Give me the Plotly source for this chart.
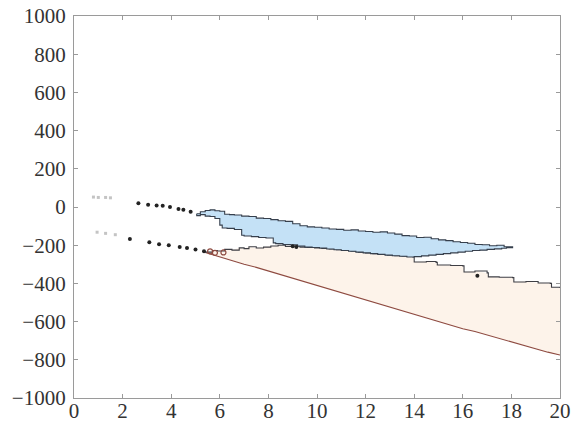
import plotly.graph_objects as go

# Blue region boundaries
blue_upper_x = [5.05, 5.2, 5.4, 5.6, 5.8, 6.0, 6.2, 6.4, 6.6, 6.9, 7.2, 7.5, 7.8, 8.1, 8.4, 8.7, 9.0,
                9.3, 9.6, 9.9, 10.2, 10.5, 10.8, 11.1, 11.4, 11.7, 12.0, 12.3, 12.6, 12.9, 13.2, 13.5,
                13.8, 14.1, 14.4, 14.7, 15.0, 15.3, 15.6, 15.9, 16.2, 16.5, 16.8, 17.1, 17.4, 17.7, 18.05]
blue_upper_y = [-35, -25, -18, -15, -20, -22, -38, -40, -42, -48, -50, -58, -60, -66, -72, -75, -88,
                -98, -104, -106, -110, -115, -117, -122, -120, -126, -128, -132, -130, -136, -142, -150,
                -152, -160, -158, -166, -172, -176, -182, -186, -190, -196, -198, -203, -200, -208, -213]
blue_lower_x = [5.05, 5.2, 5.4, 5.6, 5.8, 6.0, 6.1, 6.3, 6.6, 6.9, 7.0, 7.3, 7.6, 7.9, 8.2, 8.3, 8.6,
                8.9, 9.2, 9.5, 9.8, 10.1, 10.4, 10.7, 11.0, 11.3, 11.6, 11.9, 12.2, 12.5, 12.8, 13.1,
                13.4, 13.7, 14.0, 14.3, 14.6, 14.9, 15.2, 15.5, 15.8, 16.1, 16.4, 16.7, 17.0, 17.3,
                17.6, 17.8, 18.05]
blue_lower_y = [-35, -45, -40, -48, -50, -60, -95, -110, -112, -118, -148, -152, -155, -160, -162, -188,
                -192, -196, -198, -205, -210, -212, -215, -220, -224, -228, -232, -236, -240, -244, -248,
                -252, -255, -258, -262, -260, -256, -252, -248, -244, -240, -236, -232, -228, -226,
                -222, -219, -216, -213]

# Peach region boundaries
peach_upper_x = [5.4, 5.7, 5.9, 6.2, 6.5, 6.8, 7.0, 7.2, 7.5, 7.8, 8.1, 8.4, 8.7, 9.0, 9.3, 9.6, 9.9,
                 10.2, 10.5, 10.8, 11.1, 11.4, 11.7, 12.0, 12.3, 12.6, 12.9, 13.2, 13.5, 13.95, 14.0,
                 14.5, 14.9, 14.95, 15.5, 16.0, 16.05, 16.5, 17.0, 17.05, 17.5, 18.05, 18.1, 18.6,
                 19.1, 19.6, 19.65, 20.0]
peach_upper_y = [-236, -228, -230, -222, -226, -214, -218, -208, -215, -210, -204, -200, -206, -204,
                 -210, -212, -215, -217, -220, -224, -228, -232, -236, -240, -244, -248, -252, -255,
                 -258, -262, -288, -285, -290, -304, -306, -308, -340, -335, -345, -366, -368, -370,
                 -393, -390, -398, -400, -420, -424]
peach_lower_x = [5.4, 6, 6.5, 7, 7.5, 8, 8.5, 9, 9.5, 10, 10.5, 11, 11.5, 12, 12.5, 13, 13.5, 14,
                 14.5, 15, 15.5, 16, 16.5, 17, 17.5, 18, 18.5, 19, 19.5, 20]
peach_lower_y = [-238, -262, -278, -300, -316, -335, -352, -370, -392, -412, -430, -450, -466, -487,
                 -505, -523, -545, -562, -580, -598, -620, -637, -652, -670, -690, -706, -722, -740,
                 -760, -775]

# Small islands / dots
faint_x = [0.8, 1.0, 1.3, 1.5, 0.95, 1.3, 1.7]
faint_y = [52, 50, 50, 48, -132, -138, -145]
dots_x = [2.65, 3.05, 3.4, 3.65, 3.95, 4.3, 4.5, 4.8,
          2.3, 3.1, 3.5, 3.9, 4.35, 4.65, 5.0, 5.35, 9.0, 9.15, 16.6]
dots_y = [20, 12, 8, 6, 0, -10, -15, -25,
          -168, -185, -195, -200, -210, -215, -222, -232, -205, -210, -360]
red_x = [5.6, 5.8, 6.15]
red_y = [-232, -240, -238]

fig = go.Figure()

fig.add_trace(go.Scatter(
    x=peach_upper_x + peach_lower_x[::-1],
    y=peach_upper_y + peach_lower_y[::-1],
    fill="toself", fillcolor="#fdf3ea", line=dict(width=0), mode="lines",
    hoverinfo="skip", showlegend=False))
fig.add_trace(go.Scatter(x=peach_lower_x, y=peach_lower_y, mode="lines",
                         line=dict(color="#8e4a40", width=1.1), showlegend=False))
fig.add_trace(go.Scatter(x=peach_upper_x, y=peach_upper_y, mode="lines",
                         line=dict(color="#3e3e44", width=1.1, shape="hv"), showlegend=False))

fig.add_trace(go.Scatter(
    x=blue_upper_x + blue_lower_x[::-1],
    y=blue_upper_y + blue_lower_y[::-1],
    fill="toself", fillcolor="#c4e1f6", line=dict(color="#363f4c", width=1.1, shape="hv"),
    mode="lines", hoverinfo="skip", showlegend=False))

fig.add_trace(go.Scatter(x=faint_x, y=faint_y, mode="markers",
                         marker=dict(color="#c4c4c4", size=3, symbol="square"), showlegend=False))
fig.add_trace(go.Scatter(x=dots_x, y=dots_y, mode="markers",
                         marker=dict(color="#222222", size=4), showlegend=False))
fig.add_trace(go.Scatter(x=red_x, y=red_y, mode="markers",
                         marker=dict(color="rgba(0,0,0,0)", size=5,
                                     line=dict(color="#8e4a40", width=1.2)), showlegend=False))

serif = "Liberation Serif, DejaVu Serif, Times New Roman, serif"
axis_common = dict(showgrid=False, zeroline=False, showline=True, mirror="ticks",
                   linecolor="#9a9a9a", linewidth=1.2, ticks="inside", ticklen=4,
                   tickcolor="#9a9a9a", automargin=False, ticklabeloverflow="allow",
                   tickfont=dict(family=serif, size=21, color="#333333"))

fig.update_layout(
    width=573, height=429,
    margin=dict(l=74, r=13, t=16, b=31),
    paper_bgcolor="white", plot_bgcolor="white",
    font=dict(family=serif),
    xaxis=dict(range=[0, 20], tickvals=list(range(0, 21, 2)), ticklabelstandoff=-6,
               **axis_common),
    yaxis=dict(range=[-1000, 1000], tickvals=list(range(-1000, 1001, 200)), ticklabelstandoff=3,
               **axis_common),
)

# remove the page's default body margin so the figure fills the window exactly
fig.write_html("out.html", config={"displayModeBar": False},
               post_script="document.body.style.margin='0';")
